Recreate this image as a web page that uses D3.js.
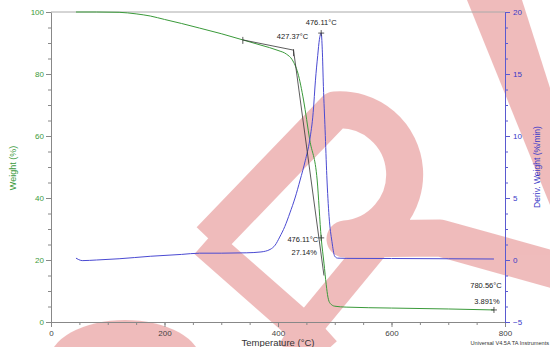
<!DOCTYPE html>
<html><head><meta charset="utf-8">
<script src="https://cdn.jsdelivr.net/npm/d3@7"></script>
<style>body{margin:0;background:#fff;} svg{display:block;font-family:"Liberation Sans",Arial,sans-serif;}</style>
</head><body>
<svg id="c" width="550" height="347"></svg>
<script>
// ---- data ----
const weightT   = [44, 80, 120, 150, 175, 200, 230, 262, 300, 338, 370, 400, 415, 425, 435, 445, 456, 469, 476.11, 481, 485, 488, 492, 500, 520, 600, 700, 780.56];
const weightPct = [100, 100, 99.9, 99.4, 98.7, 97.6, 96.3, 94.8, 93.0, 91.0, 89.3, 87.6, 86.4, 84.6, 80.3, 71.6, 58.7, 45.8, 27.14, 19, 12, 8, 6, 5.1, 4.8, 4.5, 4.2, 3.891];
const derivT    = [44, 48, 55, 80, 120, 175, 230, 262, 300, 345, 370, 386, 395, 403, 412, 421, 430, 439, 448, 456, 462, 466, 470, 473, 476.11, 478, 480, 483, 486, 490, 495, 500, 505, 520, 600, 700, 780.56];
const derivVal  = [0.15, 0.05, -0.05, 0.0, 0.1, 0.3, 0.45, 0.55, 0.55, 0.58, 0.65, 0.85, 1.2, 1.85, 2.7, 3.8, 5.0, 6.45, 8.0, 9.7, 11.9, 14.5, 16.5, 17.8, 18.3, 17.0, 14.0, 10.5, 6.8, 3.5, 1.5, 0.3, 0.15, 0.13, 0.12, 0.1, 0.08];
const xTicks = [0, 200, 400, 600, 800];
const wTicks = [0, 20, 40, 60, 80, 100];
const dTicks = [-5, 0, 5, 10, 15, 20];
// onset construction (temperature, weight)
const baseTangentT = [338, 427.37];
const baseTangentW = [91.0, 87.7];
const steepTangentT = [427.37, 481];
const steepTangentW = [87.7, 15];

const svg = d3.select("#c");
const x = d3.scaleLinear().domain([0, 800]).range([51, 505]);
const yW = d3.scaleLinear().domain([0, 100]).range([322, 12]);
const yD = d3.scaleLinear().domain([-5, 20]).range([322, 12]);

// ---- watermark (decorative) ----
const wm = svg.append("g").attr("opacity", 0.5).attr("fill", "none").attr("stroke", "#e07a7a");
wm.append("path").attr("d", "M467,0 L522,0 L550,88 L550,205 Z").attr("fill", "#e07a7a").attr("stroke", "none");
wm.append("path").attr("d", "M210,240 L335,110 A64,64 0 0 1 345,239 L440,238 L555,270").attr("stroke-width", 37).attr("stroke-linejoin", "round");
wm.append("path").attr("d", "M205,242 L305,330 L325,352").attr("stroke-width", 32);
wm.append("path").attr("d", "M375,245 L305,330 L292,352").attr("stroke-width", 30);
wm.append("ellipse").attr("cx", 125).attr("cy", 362).attr("rx", 76).attr("ry", 42).attr("fill", "#e07a7a").attr("stroke", "none");

// ---- frame & axes ----
svg.append("line").attr("x1", 51).attr("x2", 505).attr("y1", 12).attr("y2", 12).attr("stroke", "#aaa").attr("stroke-width", 1);

const fs = 8;
function styleAxis(g, color, lineColor) {
  g.selectAll("path").attr("stroke", lineColor);
  g.selectAll("line").attr("stroke", lineColor);
  g.selectAll("text").attr("fill", color).style("font-size", fs + "px").style("font-family", "Liberation Sans, Arial, sans-serif");
}
// x axis minor
svg.append("g").attr("transform", "translate(0,322)")
  .call(d3.axisBottom(x).tickValues(d3.range(0, 801, 50)).tickSize(3).tickFormat(""))
  .call(g => { g.select(".domain").remove(); g.selectAll("line").attr("stroke", "#888"); });
const gx = svg.append("g").attr("transform", "translate(0,322)")
  .call(d3.axisBottom(x).tickValues(xTicks).tickSize(5).tickSizeOuter(0).tickPadding(3));
styleAxis(gx, "#444", "#888");

svg.append("g").attr("transform", "translate(51,0)")
  .call(d3.axisLeft(yW).tickValues(d3.range(0, 101, 5)).tickSize(3).tickFormat(""))
  .call(g => { g.select(".domain").remove(); g.selectAll("line").attr("stroke", "#888"); });
const gl = svg.append("g").attr("transform", "translate(51,0)")
  .call(d3.axisLeft(yW).tickValues(wTicks).tickSize(5).tickSizeOuter(0).tickPadding(2));
styleAxis(gl, "#3c9a3c", "#888");

svg.append("g").attr("transform", "translate(505,0)")
  .call(d3.axisRight(yD).tickValues(d3.range(-5, 20.01, 1.25)).tickSize(3).tickFormat(""))
  .call(g => { g.select(".domain").remove(); g.selectAll("line").attr("stroke", "#5a5ad0"); });
const gr = svg.append("g").attr("transform", "translate(505,0)")
  .call(d3.axisRight(yD).tickValues(dTicks).tickSize(5).tickSizeOuter(0).tickPadding(3));
styleAxis(gr, "#3a3ac8", "#5a5ad0");

// ---- titles ----
svg.append("text").attr("x", 278).attr("y", 346).attr("text-anchor", "middle")
  .style("font-size", "9.5px").attr("fill", "#333").text("Temperature (°C)");
svg.append("text").attr("transform", "translate(16,168) rotate(-90)").attr("text-anchor", "middle")
  .style("font-size", "9px").attr("fill", "#3c9a3c").text("Weight (%)");
svg.append("text").attr("transform", "translate(540,167) rotate(-90)").attr("text-anchor", "middle")
  .style("font-size", "8.5px").attr("fill", "#3a3ac8").text("Deriv. Weight (%/min)");
svg.append("text").attr("x", 549).attr("y", 345).attr("text-anchor", "end")
  .style("font-size", "5.6px").attr("fill", "#333").text("Universal V4.5A TA Instruments");

// ---- curves ----
const wLine = d3.line().x((d, i) => x(weightT[i])).y(d => yW(d)).curve(d3.curveMonotoneX);
svg.append("path").attr("d", wLine(weightPct)).attr("fill", "none").attr("stroke", "#3a9a3a").attr("stroke-width", 1);
const dLine = d3.line().x((d, i) => x(derivT[i])).y(d => yD(d)).curve(d3.curveMonotoneX);
svg.append("path").attr("d", dLine(derivVal)).attr("fill", "none").attr("stroke", "#4a4ad2").attr("stroke-width", 1);

// onset tangents
const tl = d3.line().x(d => x(d[0])).y(d => yW(d[1]));
svg.append("path").attr("d", tl(d3.zip(baseTangentT, baseTangentW))).attr("fill", "none").attr("stroke", "#333").attr("stroke-width", 0.8);
svg.append("path").attr("d", tl(d3.zip(steepTangentT, steepTangentW))).attr("fill", "none").attr("stroke", "#333").attr("stroke-width", 0.8);

// markers
function plus(px, py) {
  svg.append("line").attr("x1", px - 3).attr("x2", px + 3).attr("y1", py).attr("y2", py).attr("stroke", "#333").attr("stroke-width", 0.8);
  svg.append("line").attr("x1", px).attr("x2", px).attr("y1", py - 3).attr("y2", py + 3).attr("stroke", "#333").attr("stroke-width", 0.8);
}
function vtick(px, py) {
  svg.append("line").attr("x1", px).attr("x2", px).attr("y1", py - 3).attr("y2", py + 4).attr("stroke", "#333").attr("stroke-width", 0.8);
}
vtick(x(baseTangentT[0]), yW(baseTangentW[0]));
vtick(x(427.37), yW(87.7) + 2);
plus(x(476.11), yD(18.3));
plus(x(476.11), yW(27.14));
plus(x(780.56), yW(3.891));

// annotations
function ann(tx, ty, txt, anchor) {
  svg.append("text").attr("x", tx).attr("y", ty).attr("text-anchor", anchor || "middle")
    .style("font-size", "7.5px").attr("fill", "#222").text(txt);
}
ann(x(427.37) - 1, yW(87.7) - 11, "427.37°C");
ann(x(476.11), yD(18.3) - 8, "476.11°C");
ann(x(476.11) - 3, yW(27.14) + 4, "476.11°C", "end");
ann(x(476.11) - 17, yW(27.14) + 17, "27.14%");
ann(x(780.56) - 8, yW(3.891) - 22, "780.56°C");
ann(x(780.56) - 7, yW(3.891) - 6, "3.891%");
</script>
</body></html>
